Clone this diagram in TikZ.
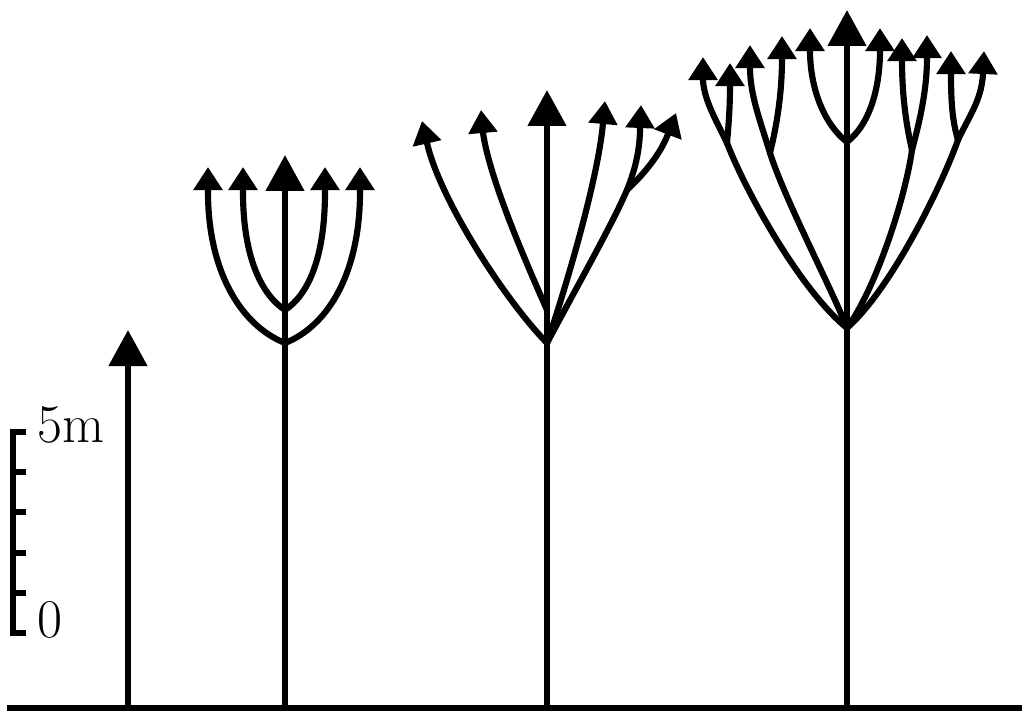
\documentclass[tikz,border=0pt]{standalone}
\usetikzlibrary{arrows.meta,calc}
\begin{document}
\begin{tikzpicture}[x=0.02cm,y=-0.02cm,
  stem/.style={line width=3.5pt,line cap=round,line join=round},
  twig/.style={stem,-{Triangle[width=0.56cm,length=0.46cm]}},
  leader/.style={stem,line cap=butt,-{Triangle[width=0.75cm,length=0.72cm]}},
  bar/.style={line width=3.3pt,line cap=butt,line join=miter},
  lbl/.style={font=\fontsize{31}{32}\selectfont,inner sep=0pt,anchor=base west}]
\useasboundingbox (0,0) rectangle (1022,711);
% ground
\coordinate (g0) at (7,708); \coordinate (g1) at (1022,708);
\draw[bar] (g0) -- (g1);
% scale bar
\coordinate (s0) at (13,432); \coordinate (s1) at (13,633);
\draw[bar] ($(s0)+(13,0)$) -- (s0) -- (s1) -- ($(s1)+(13,0)$);
\foreach \y in {472,512,553,593}{\draw[bar] (13,\y) -- (26,\y);}
\node[lbl] (five) at (37,442) {5m};
\node[lbl] (zero) at (37,637) {0};
% tall arrow
\coordinate (a0) at (128,708); \coordinate (a1) at (128,330);
\draw[leader] (a0) -- (a1);
% ---------- tree 1
\coordinate (t1r) at (285,708); \coordinate (t1t) at (285,155);
\coordinate (t1j) at (285,343); \coordinate (t1k) at (285,310);
\draw[leader] (t1r) -- (t1t);
\draw[twig] (t1j) .. controls (240,325) and (208,270) .. (208,192) -- (208,167);
\draw[twig] (t1k) .. controls (262,295) and (243,258) .. (243,192) -- (243,167);
\draw[twig] (t1k) .. controls (308,295) and (325,258) .. (325,192) -- (325,167);
\draw[twig] (t1j) .. controls (330,325) and (360,270) .. (360,192) -- (360,167);
% ---------- tree 2
\coordinate (t2r) at (547,708); \coordinate (t2t) at (547,90);
\coordinate (t2j) at (547,343); \coordinate (t2k) at (547,310);
\coordinate (t2f) at (627,190);
\draw[leader] (t2r) -- (t2t);
\draw[twig] (t2j) .. controls (505,300) and (440,200) .. (427,143) -- (422,121);
\draw[twig] (t2k) .. controls (525,260) and (490,180) .. (483,133) -- (481,110);
\draw[twig] (t2j) .. controls (565,290) and (598,180) .. (603,123) -- (605,101);
\draw[stem] (t2j) .. controls (575,290) and (612,225) .. (t2f);
\draw[twig] (t2f) .. controls (635,170) and (640,150) .. (640,128) -- (641,105);
\draw[twig] (t2f) .. controls (645,173) and (661,153) .. (668,134) -- (676,113);
% ---------- tree 3
\coordinate (t3r) at (847,708); \coordinate (t3t) at (847,10);
\coordinate (t3j) at (847,328); \coordinate (t3c) at (847,142);
\coordinate (t3a) at (727,143); \coordinate (t3b) at (770,153);
\coordinate (t3d) at (912,150); \coordinate (t3e) at (958,140);
\draw[leader] (t3r) -- (t3t);
\draw[twig] (t3c) .. controls (825,125) and (810,90) .. (810,50) -- (810,28);
\draw[twig] (t3c) .. controls (869,125) and (880,90) .. (880,50) -- (880,28);
\draw[stem] (t3j) .. controls (800,290) and (745,190) .. (t3a);
\draw[twig] (t3a) .. controls (716,120) and (704,100) .. (703,80) -- (703,57);
\draw[twig] (t3a) .. controls (729,120) and (730,105) .. (730,85) -- (730,63);
\draw[stem] (t3j) .. controls (830,285) and (785,200) .. (t3b);
\draw[twig] (t3b) .. controls (760,120) and (750,95) .. (750,67) -- (750,45);
\draw[twig] (t3b) .. controls (778,120) and (782,90) .. (782,58) -- (782,36);
\draw[stem] (t3j) .. controls (875,290) and (905,200) .. (t3d);
\draw[twig] (t3d) .. controls (905,120) and (902,90) .. (902,60) -- (902,38);
\draw[twig] (t3d) .. controls (920,120) and (927,90) .. (927,57) -- (927,35);
\draw[stem] (t3j) .. controls (890,290) and (940,190) .. (t3e);
\draw[twig] (t3e) .. controls (952,120) and (951,100) .. (951,73) -- (951,51);
\draw[twig] (t3e) .. controls (968,118) and (982,100) .. (983,73) -- (984,51);
\end{tikzpicture}
\end{document}
